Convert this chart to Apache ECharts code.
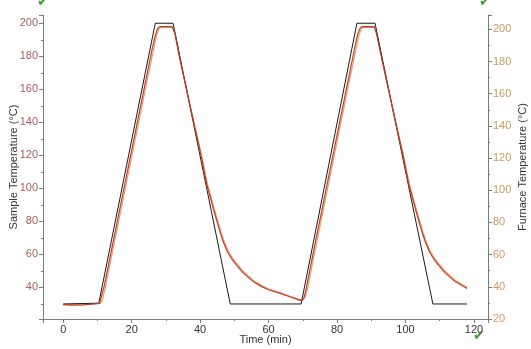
<!DOCTYPE html>
<html><head><meta charset="utf-8">
<script src="https://cdn.jsdelivr.net/npm/echarts@6/dist/echarts.min.js"></script>
<style>html,body{margin:0;padding:0;background:#fff}#c{width:531px;height:349px}</style>
</head><body><div id="c"></div>
<script>
// Program / setpoint (black)
const programTemp = [[0,30],[10.4,30.5],[26.9,200],[32.1,200],[48.8,30],[69.5,30],[85.8,200],[91.1,200],[108,30],[118,30]];
// Sample temperature (red)
const sampleTemp = [[0,29.6],[3,29.3],[6,29.5],[10.6,30.3],[11.1,31.5],[12,41],[14,61.5],[16,82],[18,102.5],[20,123],[22,143.5],[24,164],[26,184.5],[26.6,190],[27.1,194],[27.6,196.8],[28.2,198],[31.8,198],[32.6,194],[34,179],[36,160],[38,141],[40.5,117.7],[41.2,110],[42,102],[43,94.5],[43.9,87.5],[45,79.5],[46,72.5],[46.8,67.5],[48,61.5],[49.5,56.5],[50.7,53.4],[52.5,49],[55.6,43.4],[58,40.5],[60,38.6],[63.4,36.4],[66,34.5],[69.2,32.2],[69.9,32.3],[70.4,34],[71,39.5],[73,60.5],[75,81],[77,101.5],[79,122],[81,142.5],[83,163],[85,183.5],[85.5,188.5],[86,193],[86.6,196.5],[87.2,198],[90.8,198],[91.5,194],[93,179],[95,160],[97,141],[99.5,117.5],[100.2,110],[101,102],[102,94.5],[102.9,87.5],[104,79.5],[105,72.5],[105.8,67.5],[107,61.5],[108.5,56.5],[109.7,53.4],[111.5,49],[114.6,43.4],[117,40.6],[118,39.4]];
// Furnace temperature (orange)
const furnaceTemp = [[0,29.8],[3,29.5],[6,29.7],[10.8,30.4],[11.4,31.8],[12.4,41],[14.4,61.5],[16.4,82],[18.4,102.5],[20.4,123],[22.4,143.5],[24.4,164],[26.4,184],[27,190],[27.5,194],[28,196.5],[28.6,197.5],[31.9,197.5],[32.8,193],[34.2,178],[36.2,159],[38.2,140],[40.6,118.5],[41.3,111],[42.1,103],[43.1,95.5],[44,88.5],[45.1,80.5],[46.1,73.5],[46.9,68.5],[48.1,62.5],[49.6,57.3],[50.8,54.2],[52.6,49.8],[55.7,44],[58.1,41],[60.1,39.1],[63.5,36.8],[66.1,34.8],[69.3,32.5],[70.1,32.6],[70.7,34.5],[71.4,39.5],[73.4,60.5],[75.4,81],[77.4,101.5],[79.4,122],[81.4,142.5],[83.4,163],[85.4,183],[85.9,188],[86.4,192.5],[87,196],[87.6,197.5],[90.9,197.5],[91.7,193],[93.2,178],[95.2,159],[97.2,140],[99.6,118.5],[100.3,111],[101.1,103],[102.1,95.5],[103,88.5],[104.1,80.5],[105.1,73.5],[105.9,68.5],[107.1,62.5],[108.6,57.3],[109.8,54.2],[111.6,49.8],[114.7,44],[117.1,41.2],[118,40]];
const xRange = [-5.9, 124.1];
const leftRange = [20.9, 205];
const rightRange = [20, 208.9];
const tickStep = 20;

const chart = echarts.init(document.getElementById('c'), null, {renderer:'canvas'});
const font = 'Liberation Sans, Arial, sans-serif';
const axisLineStyle = {color:'#7a7a7a', width:1};
chart.setOption({
  animation:false,
  backgroundColor:'#fff',
  grid:{left:43, right:43, top:15, bottom:30, containLabel:false, outerBoundsMode:'none'},
  xAxis:{
    type:'value', min:xRange[0], max:xRange[1], minInterval:tickStep, maxInterval:tickStep, splitNumber:6,
    name:'Time (min)', nameLocation:'middle', nameGap:15, nameMoveOverlap:false,
    nameTextStyle:{color:'#333', fontSize:11, fontFamily:font},
    axisLine:{onZero:false, lineStyle:axisLineStyle},
    axisTick:{show:true, length:4, lineStyle:axisLineStyle},
    minorTick:{show:true, splitNumber:2, length:2, lineStyle:axisLineStyle},
    axisLabel:{color:'#333', fontSize:11, fontFamily:font, margin:5, showMinLabel:false, showMaxLabel:false,
      formatter:v=> (Math.abs(v % 20) < 1e-6 ? String(v) : '')},
    splitLine:{show:false}
  },
  yAxis:[{
    type:'value', position:'left', min:leftRange[0], max:leftRange[1], minInterval:tickStep, maxInterval:tickStep, splitNumber:9,
    name:'Sample Temperature (°C)', nameLocation:'middle', nameGap:24, nameRotate:90, nameMoveOverlap:false,
    nameTextStyle:{color:'#333', fontSize:11, fontFamily:font},
    axisLine:{show:true, onZero:false, lineStyle:axisLineStyle},
    axisTick:{show:true, length:4, lineStyle:axisLineStyle},
    minorTick:{show:true, splitNumber:2, length:2, lineStyle:axisLineStyle},
    axisLabel:{color:'#a85a5e', fontSize:11, fontFamily:font, margin:5, showMinLabel:false, showMaxLabel:false,
      formatter:v=> (Math.abs(v % 20) < 1e-6 ? String(v) : '')},
    splitLine:{show:false}
  },{
    type:'value', position:'right', min:rightRange[0], max:rightRange[1], minInterval:tickStep, maxInterval:tickStep, splitNumber:9,
    name:'Furnace Temperature (°C)', nameLocation:'middle', nameGap:29, nameRotate:90, nameMoveOverlap:false,
    nameTextStyle:{color:'#333', fontSize:11, fontFamily:font},
    axisLine:{show:true, onZero:false, lineStyle:axisLineStyle},
    axisTick:{show:true, length:4, lineStyle:axisLineStyle},
    minorTick:{show:true, splitNumber:2, length:2, lineStyle:axisLineStyle},
    axisLabel:{color:'#c89a62', fontSize:11, fontFamily:font, margin:5, showMaxLabel:false,
      formatter:v=> (Math.abs(v % 20) < 1e-6 ? String(v) : '')},
    splitLine:{show:false}
  }],
  series:[
    {type:'line', yAxisIndex:0, data:programTemp, symbol:'none', lineStyle:{color:'#1a1a1a', width:1}, z:3},
    {type:'line', yAxisIndex:0, data:furnaceTemp, symbol:'none', lineStyle:{color:'#f09a6a', width:1.2}, z:2},
    {type:'line', yAxisIndex:0, data:sampleTemp, symbol:'none', lineStyle:{color:'#b8402a', width:1.2}, z:4}
  ],
  graphic:[
    {type:'text', left:37, top:-5, style:{text:'✔', fill:'#3f9e3a', font:'14px DejaVu Sans'}},
    {type:'text', left:479, top:-5, style:{text:'✔', fill:'#3f9e3a', font:'14px DejaVu Sans'}},
    {type:'text', left:473, top:329, style:{text:'✔', fill:'#3f9e3a', font:'14px DejaVu Sans'}}
  ]
});
</script></body></html>
